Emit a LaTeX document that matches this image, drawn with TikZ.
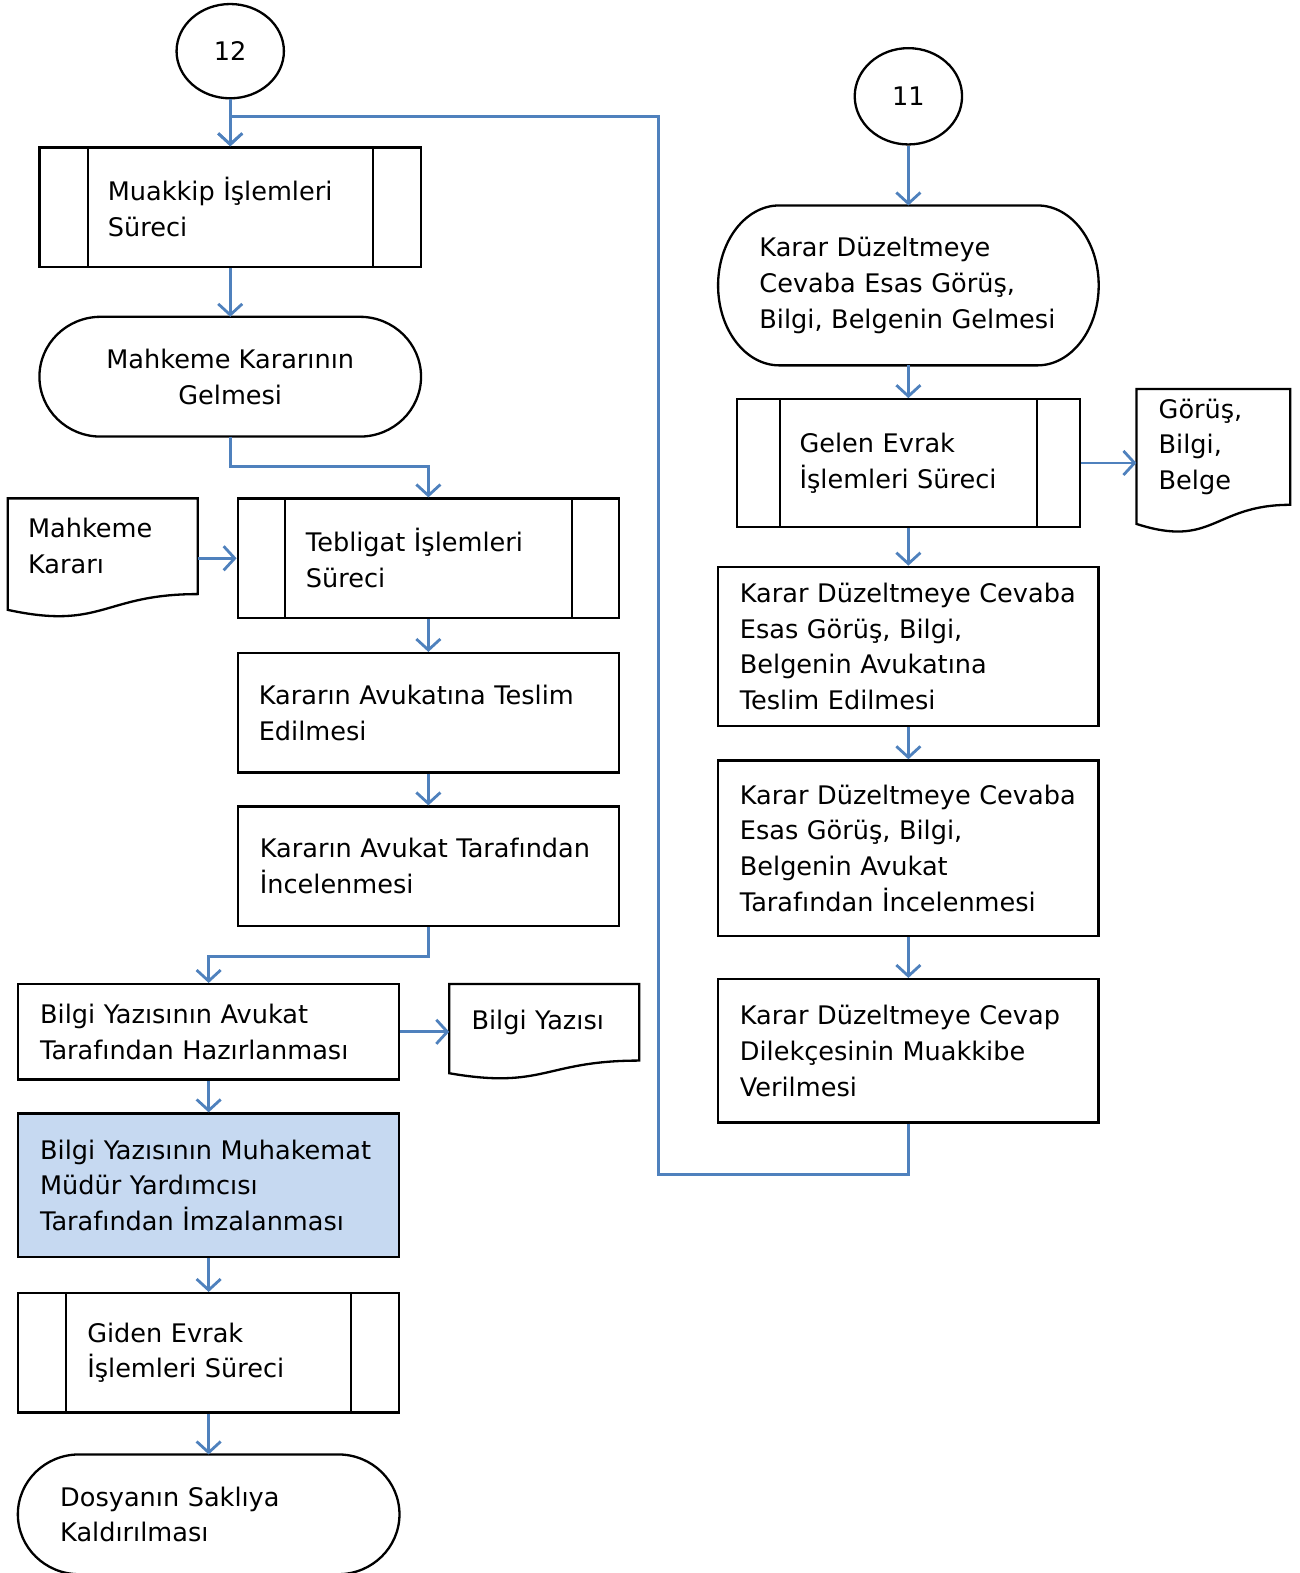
\documentclass[tikz,border=0pt]{standalone}
\usepackage{fontspec}
\setmainfont{DejaVu Sans}
\usetikzlibrary{arrows.meta,calc,shapes.geometric}

\definecolor{flowblue}{HTML}{4F81BD}
\definecolor{signfill}{HTML}{C6D9F1}

\tikzset{
  procbox/.style={draw, rectangle, line width=2.3pt, inner sep=0pt, align=left},
  subproc/.style={procbox, path picture={
      \draw[line width=2.3pt]
        ([xshift=#1]path picture bounding box.north west) -- ([xshift=#1]path picture bounding box.south west)
        ([xshift=-#1]path picture bounding box.north east) -- ([xshift=-#1]path picture bounding box.south east);}},
  termbox/.style={rectangle, inner sep=0pt, align=left},
  docbox/.style={rectangle, inner sep=0pt, align=left},
  conn/.style={draw, ellipse, line width=2.3pt, inner sep=0pt},
  shapeline/.style={draw, line width=2.3pt},
  flow/.style={draw=flowblue, line width=2.8pt, -{Straight Barb[length=11pt,width=24pt]}}
}

\begin{document}
\begin{tikzpicture}[x=1pt, y=-1pt, font=\fontsize{25.5pt}{35.5pt}\selectfont]

  \useasboundingbox (0,0) rectangle (1295,1568);

  % left column
  \node[conn, minimum width=107pt, minimum height=94pt] (c12) at (229.5,51) {12};
  \node[subproc=48pt, minimum width=380pt, minimum height=119pt, text width=244pt] (muakkip) at (229.5,206.5) {Muakkip İşlemleri\\Süreci};
  \node[termbox, minimum width=380pt, minimum height=119pt, align=center] (mahkeme) at (229.5,375.5) {Mahkeme Kararının\\Gelmesi};
  \node[docbox, minimum width=189pt, minimum height=95pt, text width=149pt] (karar) at (102.5,544.5) {Mahkeme\\Kararı};
  \node[subproc=47pt, minimum width=380pt, minimum height=119pt, text width=244pt] (tebligat) at (427,556.5) {Tebligat İşlemleri\\Süreci};
  \node[procbox, minimum width=380pt, minimum height=119pt, text width=338pt] (teslim) at (427,710.5) {Kararın Avukatına Teslim\\Edilmesi};
  \node[procbox, minimum width=380pt, minimum height=119pt, text width=336pt] (inceleme) at (427,863.5) {Kararın Avukat Tarafından\\İncelenmesi};
  \node[procbox, minimum width=380pt, minimum height=95pt, text width=336pt] (hazirlama) at (208,1028.5) {Bilgi Yazısının Avukat\\Tarafından Hazırlanması};
  \node[docbox, minimum width=189pt, minimum height=76pt, text width=145pt] (yazi) at (542.5,1019) {Bilgi Yazısı};
  \node[procbox, fill=signfill, minimum width=380pt, minimum height=143pt, text width=336pt] (imza) at (208,1181.5) {Bilgi Yazısının Muhakemat\\Müdür Yardımcısı\\Tarafından İmzalanması};
  \node[subproc=48pt, minimum width=380pt, minimum height=119pt, text width=242pt] (giden) at (208,1348.5) {Giden Evrak\\İşlemleri Süreci};
  \node[termbox, minimum width=380pt, minimum height=119pt, text width=296pt] (saklama) at (208,1509.5) {Dosyanın Saklıya\\Kaldırılması};

  % right column
  \node[conn, minimum width=107pt, minimum height=96pt] (c11) at (905.5,96) {11};
  \node[termbox, minimum width=379pt, minimum height=159pt, text width=297pt] (gelme) at (905.5,284.5) {Karar Düzeltmeye\\Cevaba Esas Görüş,\\Bilgi, Belgenin Gelmesi};
  \node[subproc=43pt, minimum width=342pt, minimum height=127pt, text width=217pt] (gelen) at (905.5,461.5) {Gelen Evrak\\İşlemleri Süreci};
  \node[docbox, minimum width=153pt, minimum height=115pt, text width=109pt] (gorus) at (1209.5,445.5) {Görüş,\\Bilgi,\\Belge};
  \node[procbox, minimum width=379pt, minimum height=159pt, text width=336pt] (rteslim) at (905.5,644.5) {Karar Düzeltmeye Cevaba\\Esas Görüş, Bilgi,\\Belgenin Avukatına\\Teslim Edilmesi};
  \node[procbox, minimum width=379pt, minimum height=175pt, text width=336pt] (rinceleme) at (905.5,845.5) {Karar Düzeltmeye Cevaba\\Esas Görüş, Bilgi,\\Belgenin Avukat\\Tarafından İncelenmesi};
  \node[procbox, minimum width=379pt, minimum height=143pt, text width=336pt] (dilekce) at (905.5,1047.5) {Karar Düzeltmeye Cevap\\Dilekçesinin Muakkibe\\Verilmesi};

  % terminal outlines
  \foreach \nm in {mahkeme,saklama,gelme}
    \draw[shapeline] let \p1=(\nm.north), \p2=(\nm.south) in
      ([xshift=61pt]\nm.north west) -- ([xshift=-61pt]\nm.north east)
      arc[start angle=90, end angle=-90, x radius=61pt, y radius={(\y1-\y2)/2}]
      -- ([xshift=61pt]\nm.south west)
      arc[start angle=270, end angle=90, x radius=61pt, y radius={(\y1-\y2)/2}] -- cycle;

  % document outlines
  \foreach \nm in {karar,yazi,gorus}
    \draw[shapeline] let \p1=(\nm.north), \p2=(\nm.south) in
      (\nm.south east) .. controls (\nm.south) and ([yshift={-0.38*(\y1-\y2)}]\nm.south)
      .. ([yshift={-0.165*(\y1-\y2)}]\nm.south west) -- (\nm.north west) -- (\nm.north east) -- cycle;

  % connectors
  \draw[flow] (c12) -- (muakkip);
  \draw[flow] (muakkip) -- (mahkeme);
  \draw[flow] (mahkeme.south) -- ++(0,30) -| (tebligat.north);
  \draw[flow] (tebligat.west -| karar.east) -- (tebligat.west);
  \draw[flow] (tebligat) -- (teslim);
  \draw[flow] (teslim) -- (inceleme);
  \draw[flow] (inceleme.south) -- ++(0,29) -| (hazirlama.north);
  \draw[flow] (hazirlama.east) -- (hazirlama.east -| yazi.west);
  \draw[flow] (hazirlama) -- (imza);
  \draw[flow] (imza) -- (giden);
  \draw[flow] (giden) -- (saklama);

  \draw[flow] (c11) -- (gelme);
  \draw[flow] (gelme) -- (gelen);
  \draw[flow] (gelen.east) -- (gelen.east -| gorus.west);
  \draw[flow] (gelen) -- (rteslim);
  \draw[flow] (rteslim) -- (rinceleme);
  \draw[flow] (rinceleme) -- (dilekce);

  \coordinate (back) at (656,116);
  \draw[flow] (dilekce.south) -- ++(0,51) -| (back) -| (muakkip.north);

\end{tikzpicture}
\end{document}
